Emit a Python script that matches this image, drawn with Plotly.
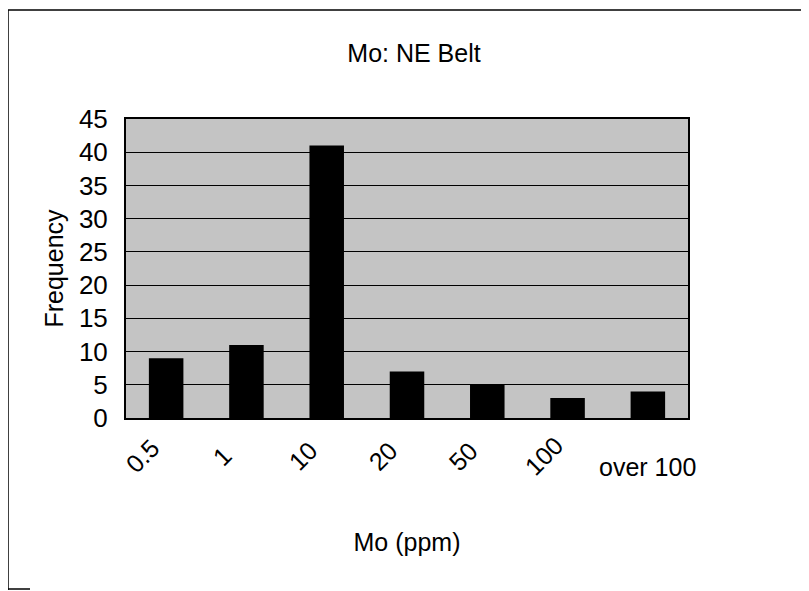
import plotly.graph_objects as go

categories = ["0.5", "1", "10", "20", "50", "100", "over 100"]
frequency = [9, 11, 41, 7, 5, 3, 4]
y_ticks = [0, 5, 10, 15, 20, 25, 30, 35, 40, 45]

FONT = "Liberation Sans"
OFF = 8                      # page body margin of the html page
W, H = 809 - OFF, 591 - OFF
# plot area in window pixels: x 126..688, y 119..418
L, T = 126 - OFF, 119 - OFF
R, B = W - (688 - OFF), H - (418 - OFF)
PW, PH = W - L - R, H - T - B


def px_x(xw):
    return (xw - OFF - L) / PW


def px_y(yw):
    return (T + PH - (yw - OFF)) / PH


fig = go.Figure()
fig.add_trace(go.Bar(x=categories, y=frequency, marker=dict(color="black", line=dict(width=0)),
                     width=0.43, hoverinfo="x+y"))

# category tick labels, placed at each category's index on the category axis
annotations = []
for i, c in enumerate(categories):
    if c.startswith("over"):
        annotations.append(dict(x=i, y=0, xref="x", yref="y", text=c, showarrow=False,
                                xanchor="center", yanchor="middle", xshift=0, yshift=-49,
                                font=dict(family=FONT, size=25, color="black")))
    else:
        annotations.append(dict(x=i, y=0, xref="x", yref="y", text=c, showarrow=False,
                                textangle=-45, xanchor="center", yanchor="middle",
                                xshift=-24, yshift=-38,
                                font=dict(family=FONT, size=25, color="black")))

frame_line = dict(color="black", width=1.5)
shapes = [
    dict(type="line", xref="paper", yref="paper", x0=px_x(8), x1=px_x(8), y0=px_y(10), y1=px_y(590),
         line=frame_line, layer="below"),
    dict(type="line", xref="paper", yref="paper", x0=px_x(8), x1=px_x(809), y0=px_y(10), y1=px_y(10),
         line=frame_line, layer="below"),
    dict(type="line", xref="paper", yref="paper", x0=px_x(8), x1=px_x(30), y0=px_y(589), y1=px_y(589),
         line=frame_line, layer="below"),
]

fig.update_layout(
    width=W, height=H,
    margin=dict(l=L, r=R, t=T, b=B, autoexpand=False),
    paper_bgcolor="white",
    plot_bgcolor="#c4c4c4",
    showlegend=False,
    title=dict(text="Mo: NE Belt", x=(414 - OFF) / W, xanchor="center", xref="container",
               y=1 - (53 - OFF) / H, yanchor="middle", yref="container",
               font=dict(family=FONT, size=25, color="black")),
    annotations=annotations,
    shapes=shapes,
)

fig.update_xaxes(
    type="category", range=[-0.5, len(categories) - 0.5], autorange=False,
    showticklabels=False, showgrid=False,
    showline=True, linecolor="black", linewidth=2, mirror=True,
    title=dict(text="Mo (ppm)", standoff=114, font=dict(family=FONT, size=25, color="black")),
)
fig.update_yaxes(
    range=[0, 45], autorange=False, tickvals=y_ticks, ticktext=[str(v) for v in y_ticks],
    showgrid=True, gridcolor="black", gridwidth=1,
    showline=True, linecolor="black", linewidth=2, mirror=True,
    zeroline=False, ticks="", ticklabelstandoff=11,
    tickfont=dict(family=FONT, size=26, color="black"),
    title=dict(text="Frequency", standoff=8, font=dict(family=FONT, size=25, color="black")),
)

fig.write_html("out.html")
